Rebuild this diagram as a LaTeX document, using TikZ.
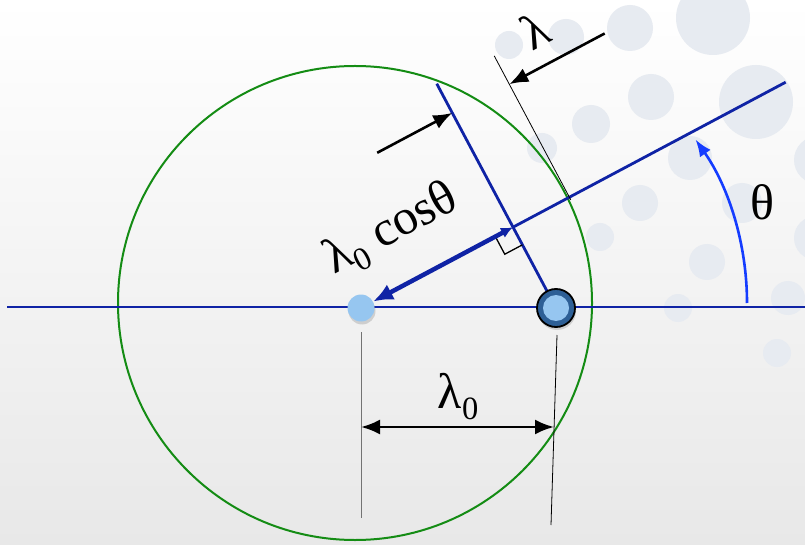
\documentclass[tikz,border=0pt]{standalone}
\usepackage{fontspec}
\setmainfont{Liberation Serif}
\newfontfamily\labelfont{Liberation Serif}
\usetikzlibrary{positioning,arrows.meta,calc,shadows}
\definecolor{beamblue}{RGB}{15,35,165}
\definecolor{arcblue}{RGB}{20,60,255}
\definecolor{bubblegray}{RGB}{231,235,241}
\definecolor{ringgreen}{RGB}{20,140,20}
\definecolor{dotblue}{RGB}{150,198,240}
\definecolor{ringblue}{RGB}{45,95,150}
\newcommand{\lowsub}[1]{\raisebox{-0.22em}{\scalebox{0.65}{#1}}}

\begin{document}
\begin{tikzpicture}[x=1pt,y=1pt,
    beam/.style={draw=beamblue,line width=2.8pt},
    dim/.style={draw=black,line width=2.6pt},
    guide/.style={draw=black,line width=0.8pt},
    lbl/.style={font=\labelfont\fontsize{50}{54}\selectfont,inner sep=0pt}]
    % Background
    \useasboundingbox (0,0) rectangle (805,544);
    \shade[top color=white,bottom color=black!9] (0,0) rectangle (805,544);
    \foreach \bx/\by/\br in {509/45/14, 566/37/18, 630/28/23, 713/18/37, 651/97/23,
        591/124/19, 756/102/37, 542/148/15, 690/158/22, 818/160/24, 640/203/18,
        742/203/20, 600/237/14, 707/262/18, 816/238/22, 678/308/14, 788/298/17,
        777/353/14}
        \fill[bubblegray] (\bx,{544-\by}) circle (\br);

    % Circle
    \draw[ringgreen,line width=2pt] (355,241) circle (237);

    % Points and construction
    \coordinate (lc) at (361,236);
    \coordinate (dc) at (556,236);
    \coordinate (B) at ($(lc)+(28:481)$);
    \coordinate (F) at ($(lc)!(dc)!(B)$);
    \coordinate (P) at ($(lc)!236pt!(B)$);
    \coordinate (T) at ($(dc)+(118:254)$);
    \coordinate (W) at ($(P)+(118:160)$);

    % Beams
    \draw[beam] (7,237) -- (805,237);
    \draw[beam] (F) -- (B);
    \draw[beam] (dc) -- (T);
    \draw[guide] ($(P)+(-62:3)$) -- (W);

    % Right angle
    \coordinate (c1) at ($(F)!20pt!(lc)$);
    \coordinate (c3) at ($(F)!20pt!(dc)$);
    \draw[black,line width=1.3pt] (c1) -- ($(c1)+(-62:20)$) -- (c3);

    % Dots
    \node[circle,fill=dotblue,minimum size=27pt,inner sep=0pt,
        drop shadow={shadow xshift=1pt,shadow yshift=-3pt,opacity=0.3}] (ldot) at (lc) {};
    \node[circle,draw=black,line width=1.8pt,fill=ringblue,minimum size=38pt,inner sep=0pt,
        drop shadow={shadow xshift=1pt,shadow yshift=-3pt,opacity=0.3}] (ddot) at (dc) {};
    \fill[dotblue] (ddot.center) circle (13);

    % Projection arrow
    \draw[beamblue,line width=4.5pt,{Latex[length=12pt,width=11pt]}-{Latex[length=20pt,width=17pt]}]
        (F) -- (ldot);

    % Angle
    \draw[arcblue,line width=2.6pt,-{Latex[length=17pt,width=13pt]}]
        (747,241) arc[start angle=0,end angle=35,radius=285];
    \node[lbl] (theta) at (762,342) {θ};

    % Wavelength arrows
    \coordinate (lt) at ($(P)!0.8!(W)$);
    \coordinate (ls) at ($(lt)+(28:108)$);
    \draw[dim,-{Latex[length=19pt,width=15pt]}] (ls) -- (lt);
    \node[lbl,rotate=28] (lam) at (535,514) {λ};

    \coordinate (pt) at ($(dc)!0.87!(T)$);
    \coordinate (ps) at ($(pt)+(208:85)$);
    \draw[dim,-{Latex[length=19pt,width=15pt]}] (ps) -- (pt);
    \node[lbl,rotate=28] (proj) at (392,314) {λ\lowsub{0} cosθ};

    % Spacing
    \draw[draw=black!55,line width=1pt] (361,212) -- (361,26);
    \draw[guide] (557,209) -- (551,19);
    \coordinate (m1) at (361,117);
    \coordinate (m2) at (554,117);
    \draw[dim,{Latex[length=19pt,width=15pt]}-{Latex[length=19pt,width=15pt]}] (m1) -- (m2);
    \node[lbl] (lam0) at (458,147) {λ\lowsub{0}};
\end{tikzpicture}
\end{document}
